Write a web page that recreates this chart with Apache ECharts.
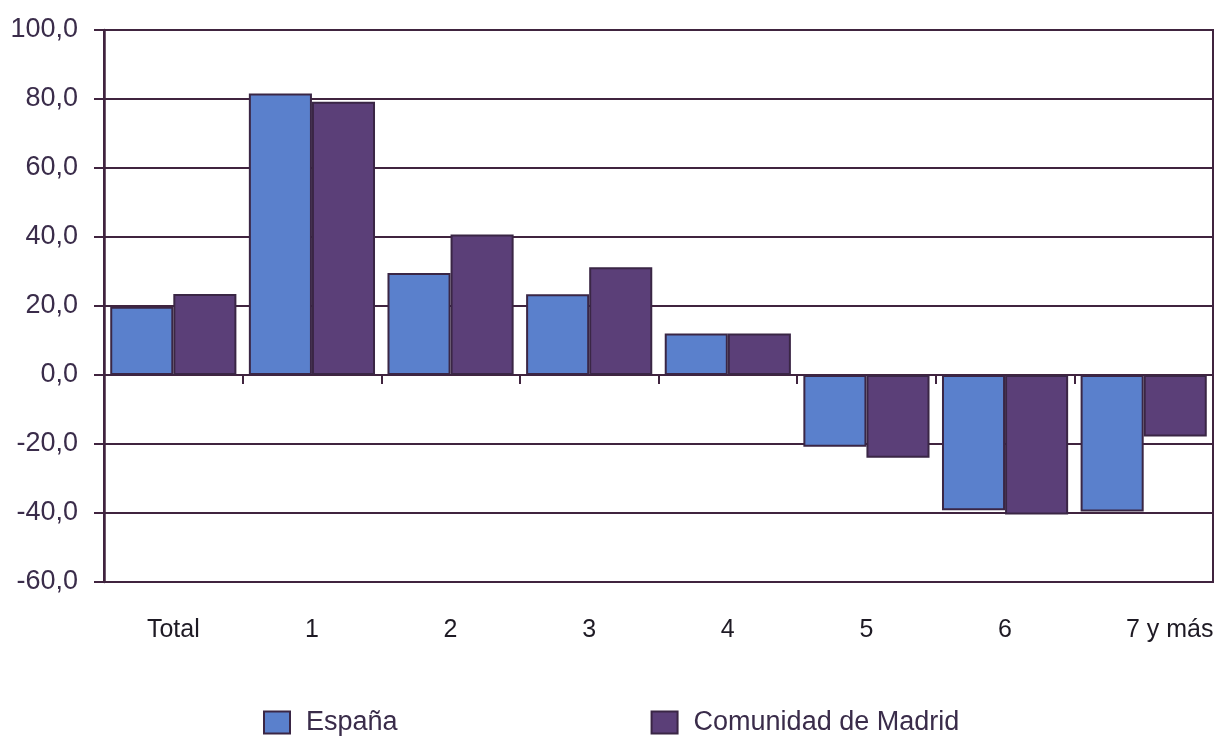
<!DOCTYPE html>
<html>
<head>
<meta charset="utf-8">
<script src="https://cdn.jsdelivr.net/npm/echarts@6/dist/echarts.min.js"></script>
<style>html,body{margin:0;padding:0;background:#fff;}#c{width:1217px;height:737px;}</style>
</head>
<body>
<div id="c"></div>
<script>
var categories = ['Total', '1', '2', '3', '4', '5', '6', '7 y más'];
var espana = [19.8, 81.6, 29.6, 23.4, 12.0, -20.8, -39.2, -39.6];
var madrid = [23.5, 79.2, 40.7, 31.2, 12.0, -24.0, -40.4, -17.8];
var seriesNames = ['España', 'Comunidad de Madrid'];

var lineColor = '#40243f';
var textColor = '#3a2c4a';
var font = '"Liberation Sans", Arial, sans-serif';

var chart = echarts.init(document.getElementById('c'));
chart.setOption({
  animation: false,
  backgroundColor: '#ffffff',
  grid: { left: 104, right: 4, top: 30, bottom: 155, show: true, borderColor: lineColor, borderWidth: 2, backgroundColor: 'transparent' },
  legend: {
    left: 258, top: 704, itemWidth: 26, itemHeight: 22, itemGap: 253,
    icon: 'rect',
    data: seriesNames,
    textStyle: { fontSize: 27, color: textColor, fontFamily: font, padding: [0, 0, 0, 11] }
  },
  xAxis: [{
    type: 'category', data: categories, position: 'bottom',
    axisLine: { onZero: true, lineStyle: { color: lineColor, width: 2 } },
    axisTick: { show: true, length: 9, lineStyle: { color: lineColor, width: 2 } },
    axisLabel: { show: false }
  }, {
    type: 'category', data: categories, position: 'bottom',
    axisLine: { show: false }, axisTick: { show: false },
    axisLabel: {
      interval: 0, margin: 36, fontSize: 25, color: '#1e1a24', fontFamily: font,
      formatter: function (v) { return v === '7 y más' ? '{last|' + v + '}' : v; },
      rich: { last: { fontSize: 25, color: '#1e1a24', fontFamily: font, padding: [0, 0, 0, 52] } }
    }
  }],
  yAxis: {
    type: 'value', min: -60, max: 100, interval: 20,
    axisLine: { show: true, lineStyle: { color: lineColor, width: 2.5 } },
    axisTick: { show: true, length: 10, lineStyle: { color: lineColor, width: 2 } },
    axisLabel: { margin: 26, fontSize: 27, color: textColor, fontFamily: font,
      formatter: function (v) { return v.toFixed(1).replace('.', ','); } },
    splitLine: { show: true, lineStyle: { color: lineColor, width: 2 } }
  },
  series: [{
    name: seriesNames[0], type: 'bar', data: espana, xAxisIndex: 0,
    barGap: '0%', barCategoryGap: '9%',
    itemStyle: { color: '#5a80cc', borderColor: '#3a2645', borderWidth: 2 }
  }, {
    name: seriesNames[1], type: 'bar', data: madrid, xAxisIndex: 0,
    barGap: '0%', barCategoryGap: '9%',
    itemStyle: { color: '#5b3f78', borderColor: '#3a2645', borderWidth: 2 }
  }]
});
</script>
</body>
</html>
